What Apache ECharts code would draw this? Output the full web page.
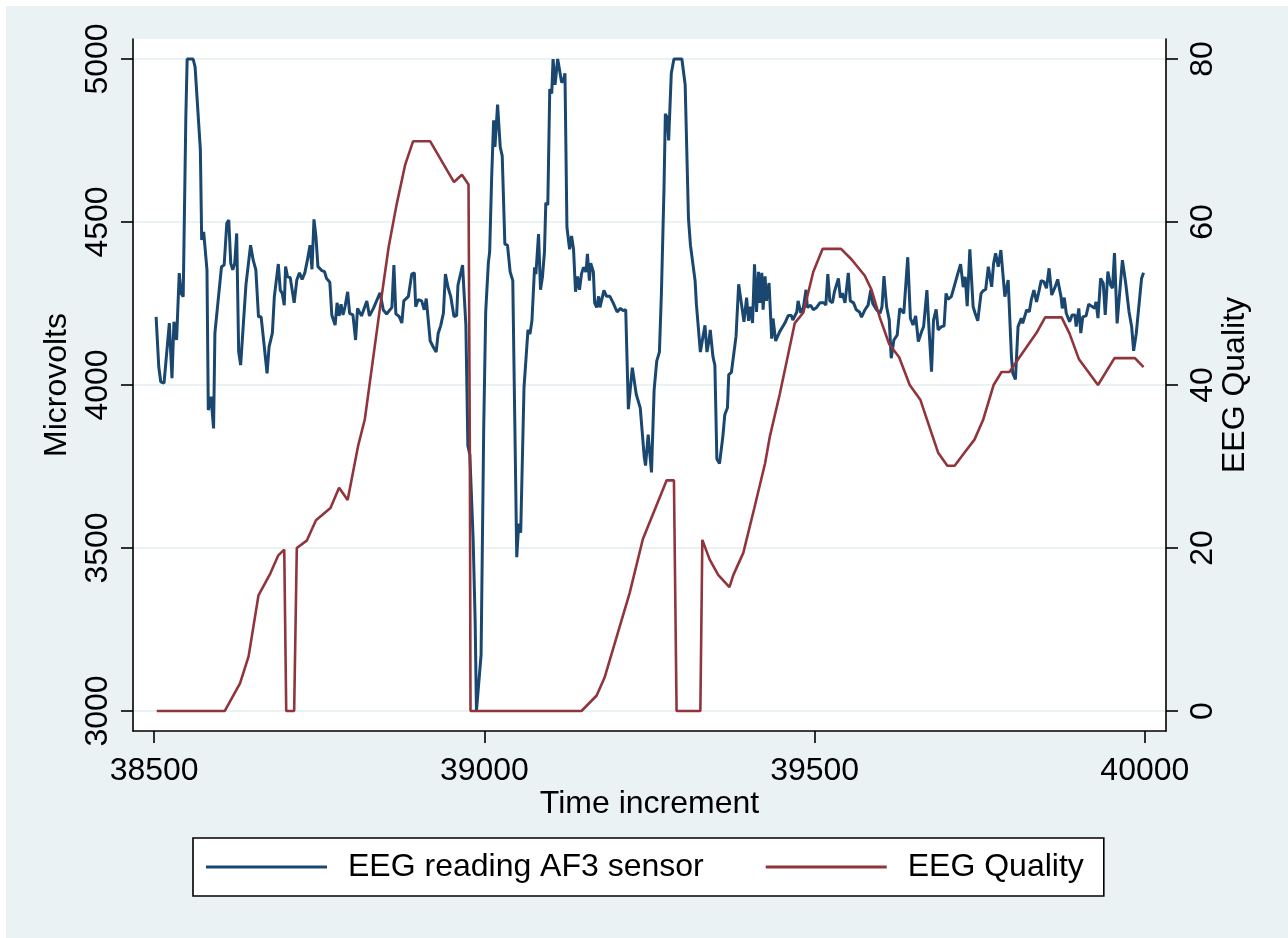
<!DOCTYPE html>
<html>
<head>
<meta charset="utf-8">
<title>EEG reading AF3 sensor</title>
<script src="https://cdn.jsdelivr.net/npm/echarts@6/dist/echarts.min.js"></script>
<style>
  html, body { margin: 0; padding: 0; background: #ffffff; }
  #main { width: 1288px; height: 938px; }
</style>
</head>
<body>
<div id="main"></div>
<script>
// AF3 sensor reading (microvolts), left axis
var timeAF3 = [
  38503, 38507, 38510, 38515, 38523, 38527, 38530, 38534, 38538, 38541,
  38544, 38548, 38550, 38559, 38562, 38570, 38572, 38575, 38580, 38582,
  38586, 38590, 38592, 38602, 38606, 38610, 38613, 38616, 38619, 38622,
  38625, 38628, 38631, 38639, 38642, 38646, 38650, 38654, 38658, 38662,
  38671, 38674, 38679, 38682, 38685, 38688, 38691, 38694, 38697, 38699,
  38702, 38706, 38709, 38712, 38716, 38720, 38724, 38728, 38732, 38736,
  38739, 38742, 38745, 38748, 38754, 38758, 38761, 38766, 38769, 38774,
  38777, 38780, 38783, 38786, 38789, 38793, 38796, 38801, 38805, 38808,
  38814, 38822, 38826, 38832, 38842, 38847, 38852, 38860, 38863, 38866,
  38871, 38875, 38878, 38885, 38890, 38894, 38896, 38900, 38905, 38909,
  38912, 38915, 38918, 38923, 38927, 38930, 38934, 38938, 38941, 38945,
  38949, 38954, 38958, 38960, 38963, 38967, 38969, 38972, 38975, 38978,
  38983, 38986, 38988, 38991, 38995, 38999, 39002, 39006, 39008, 39011,
  39014, 39016, 39020, 39024, 39027, 39031, 39035, 39039, 39043, 39046,
  39049, 39052, 39055, 39060, 39066, 39069, 39072, 39076, 39078, 39082,
  39085, 39088, 39091, 39093, 39096, 39099, 39102, 39104, 39107, 39111,
  39114, 39117, 39120, 39122, 39125, 39129, 39132, 39135, 39138, 39141,
  39144, 39147, 39150, 39154, 39156, 39159, 39161, 39165, 39167, 39170,
  39173, 39175, 39181, 39185, 39190, 39195, 39201, 39206, 39210, 39214,
  39218, 39224, 39230, 39236, 39242, 39244, 39248, 39251, 39253, 39257,
  39261, 39265, 39268, 39272, 39274, 39277, 39279, 39283, 39287, 39299,
  39304, 39309, 39312, 39319, 39321, 39324, 39327, 39331, 39334, 39337,
  39340, 39342, 39346, 39349, 39352, 39356, 39361, 39364, 39368, 39370,
  39374, 39381, 39385, 39389, 39393, 39397, 39400, 39403, 39406, 39409,
  39412, 39415, 39417, 39420, 39422, 39425, 39427, 39431, 39435, 39437,
  39441, 39447, 39455, 39460, 39465, 39467, 39473, 39475, 39479, 39483,
  39487, 39489, 39494, 39498, 39503, 39508, 39514, 39517, 39520, 39523,
  39527, 39530, 39536, 39539, 39542, 39546, 39551, 39554, 39559, 39563,
  39568, 39571, 39576, 39581, 39585, 39588, 39594, 39599, 39602, 39605,
  39609, 39613, 39616, 39620, 39625, 39629, 39635, 39641, 39645, 39649,
  39653, 39657, 39662, 39665, 39670, 39673, 39677, 39680, 39684, 39687,
  39692, 39696, 39699, 39702, 39707, 39712, 39717, 39721, 39725, 39728,
  39731, 39735, 39740, 39743, 39747, 39752, 39755, 39759, 39763, 39768,
  39771, 39774, 39778, 39782, 39788, 39793, 39795, 39798, 39800, 39804,
  39808, 39813, 39815, 39821, 39825, 39828, 39832, 39836, 39840, 39843,
  39847, 39851, 39855, 39859, 39864, 39868, 39873, 39875, 39878, 39881,
  39886, 39890, 39894, 39896, 39900, 39903, 39906, 39911, 39915, 39919,
  39924, 39926, 39929, 39933, 39937, 39940, 39944, 39948, 39951, 39954,
  39958, 39966, 39971, 39976, 39980, 39983, 39987, 39995, 39998
];
var eegAF3 = [
  4209, 4056, 4010, 4006, 4190, 4021, 4194, 4138, 4343, 4281,
  4271, 4823, 5000, 5000, 4976, 4721, 4445, 4470, 4353, 3923,
  3964, 3867, 4159, 4363, 4368, 4496, 4506, 4373, 4353, 4373,
  4465, 4102, 4061, 4307, 4301, 4429, 4383, 4353, 4209, 4209,
  4036, 4117, 4159, 4271, 4271, 4371, 4291, 4281, 4245, 4363,
  4332, 4330, 4327, 4252, 4322, 4344, 4324, 4343, 4383, 4429,
  4355, 4508, 4455, 4363, 4351, 4348, 4327, 4315, 4215, 4184,
  4252, 4212, 4248, 4215, 4240, 4286, 4220, 4215, 4138, 4235,
  4212, 4258, 4212, 4235, 4283, 4230, 4218, 4238, 4368, 4218,
  4210, 4190, 4258, 4272, 4340, 4344, 4240, 4262, 4258, 4231,
  4265, 4268, 4135, 4115, 4101, 4158, 4183, 4221, 4340, 4299,
  4272, 4210, 4213, 4306, 4306, 4368, 4292, 4183, 3814, 3786,
  3526, 3280, 3000, 3000, 3172, 3868, 4224, 4374, 4409, 4635,
  4812, 4730, 4860, 4730, 4703, 4432, 4429, 4347, 4320, 3896,
  3472, 3575, 3547, 3992, 4169, 4156, 4197, 4361, 4340, 4463,
  4292, 4333, 4409, 4559, 4552, 4908, 4894, 5000, 4921, 5000,
  4996, 4928, 4935, 4956, 4484, 4416, 4457, 4416, 4286, 4333,
  4292, 4340, 4361, 4347, 4402, 4320, 4374, 4347, 4252, 4238,
  4272, 4238, 4290, 4272, 4272, 4252, 4224, 4235, 4228, 4231,
  3926, 4053, 3971, 3930, 3780, 3753, 3848, 3848, 3732, 3985,
  4074, 4101, 4279, 4607, 4832, 4819, 4750, 4956, 5000, 5000,
  4921, 4511, 4429, 4320, 4248, 4245, 4101, 4149, 4183, 4101,
  4135, 4169, 4088, 4060, 3773, 3759, 3841, 3909, 3930, 4032,
  4039, 4149, 4309, 4252, 4194, 4268, 4197, 4240, 4190, 4370,
  4224, 4347, 4252, 4344, 4231, 4333, 4258, 4313, 4142, 4204,
  4135, 4163, 4190, 4213, 4213, 4199, 4224, 4258, 4221, 4238,
  4292, 4238, 4245, 4231, 4238, 4252, 4252, 4245, 4340, 4258,
  4252, 4286, 4327, 4268, 4282, 4252, 4344, 4258, 4252, 4231,
  4224, 4208, 4230, 4245, 4291, 4250, 4230, 4220, 4240, 4334,
  4240, 4199, 4082, 4138, 4153, 4235, 4220, 4392, 4205, 4184,
  4212, 4133, 4164, 4179, 4291, 4179, 4041, 4199, 4232, 4169,
  4179, 4181, 4281, 4263, 4271, 4307, 4343, 4371, 4300, 4332,
  4242, 4416, 4240, 4220, 4197, 4281, 4289, 4293, 4363, 4301,
  4373, 4404, 4363, 4414, 4271, 4322, 4327, 4087, 4036, 4017,
  4179, 4205, 4189, 4230, 4225, 4261, 4291, 4255, 4291, 4320,
  4317, 4297, 4358, 4276, 4300, 4324, 4271, 4235, 4268, 4220,
  4194, 4215, 4215, 4179, 4235, 4159, 4209, 4212, 4248, 4242,
  4235, 4255, 4205, 4327, 4312, 4215, 4348, 4307, 4297, 4405,
  4189, 4383, 4312, 4225, 4179, 4105, 4159, 4327, 4344
];

// EEG quality, right axis
var timeQuality = [
  38504, 38607, 38630, 38643, 38658, 38676, 38688, 38697, 38700, 38712,
  38716, 38731, 38745, 38767, 38780, 38793, 38809, 38819, 38842, 38855,
  38867, 38880, 38892, 38918, 38954, 38966, 38976, 38978, 38979, 39147,
  39170, 39182, 39220, 39240, 39276, 39287, 39291, 39327, 39330, 39341,
  39354, 39371, 39377, 39392, 39409, 39425, 39432, 39447, 39470, 39483,
  39498, 39512, 39540, 39556, 39576, 39586, 39599, 39613, 39628, 39644,
  39660, 39677, 39687, 39701, 39712, 39725, 39742, 39755, 39771, 39783,
  39795, 39811, 39836, 39849, 39874, 39886, 39900, 39929, 39954, 39985,
  39998
];
var eegQuality = [
  0, 0, 3.4, 6.7, 14.2, 16.9, 19.1, 19.8, 0, 0,
  20.0, 20.9, 23.4, 24.9, 27.4, 25.9, 32.6, 35.8, 49.5, 56.9,
  62.1, 67.0, 69.9, 69.9, 64.9, 65.8, 64.6, 32.0, 0, 0,
  1.9, 4.1, 14.5, 21.1, 28.3, 28.3, 0, 0, 21.0, 18.6,
  16.7, 15.2, 16.7, 19.4, 25.0, 30.4, 33.6, 38.8, 47.6, 48.9,
  53.9, 56.7, 56.7, 55.4, 53.4, 51.7, 48.2, 45.0, 43.4, 40.0,
  38.2, 34.1, 31.7, 30.1, 30.1, 31.5, 33.3, 35.7, 40.0, 41.6,
  41.6, 43.5, 46.4, 48.3, 48.3, 46.3, 43.2, 40.0, 43.3, 43.3,
  42.2
];

var xTicks = [38500, 39000, 39500, 40000];
var yLeftTicks = [3000, 3500, 4000, 4500, 5000];
var yRightTicks = [0, 20, 40, 60, 80];
var seriesNames = ['EEG reading AF3 sensor', 'EEG Quality'];

function pairs(xs, ys) {
    var out = [];
    for (var i = 0; i < xs.length; i++) {
        out.push([xs[i], ys[i]]);
    }
    return out;
}

// plain numbers, no thousands separator
function plain(v) {
    return String(v);
}

var navy = '#1a476f';
var maroon = '#90353b';
var font = '"Liberation Sans", Arial, sans-serif';

var myChart = echarts.init(document.getElementById('main'));

var axisLine = { show: true, onZero: false, lineStyle: { color: '#000', width: 1.6 } };

var option = {
    backgroundColor: '#ffffff',
    animation: false,
    textStyle: { fontFamily: font },
    graphic: [{
        type: 'rect',
        silent: true,
        z: -10,
        shape: { x: 6, y: 6, width: 1282, height: 932 },
        style: { fill: '#eaf2f3' }
    }],
    grid: {
        left: 133,
        right: 122,
        top: 39,
        bottom: 207,
        show: true,
        backgroundColor: '#ffffff',
        borderWidth: 0
    },
    legend: {
        left: 193,
        top: 838,
        icon: 'rect',
        itemWidth: 121,
        itemHeight: 3,
        itemGap: 62,
        padding: [13, 20, 13, 13],
        backgroundColor: '#ffffff',
        borderColor: '#000',
        borderWidth: 1.6,
        textStyle: { fontSize: 32, color: '#000', fontFamily: font, padding: [0, 0, 0, 16] },
        data: seriesNames
    },
    xAxis: {
        type: 'value',
        min: 38468,
        max: 40032,
        position: 'bottom',
        axisLine: axisLine,
        axisTick: { show: true, length: 12, customValues: xTicks, lineStyle: { color: '#000', width: 1.6 } },
        axisLabel: { customValues: xTicks, formatter: plain, fontSize: 32, color: '#000', margin: 24 },
        splitLine: { show: false },
        name: 'Time increment',
        nameLocation: 'middle',
        nameGap: 57,
        nameMoveOverlap: false,
        nameTextStyle: { fontSize: 32, color: '#000' }
    },
    yAxis: [{
        type: 'value',
        min: 2938.65,
        max: 5061.35,
        position: 'left',
        axisLine: axisLine,
        axisTick: { show: true, length: 12, customValues: yLeftTicks, lineStyle: { color: '#000', width: 1.6 } },
        axisLabel: { customValues: yLeftTicks, formatter: plain, fontSize: 32, color: '#000', rotate: 90, margin: 19 },
        splitLine: { show: true, lineStyle: { color: '#eaf2f3', width: 2 } },
        name: 'Microvolts',
        nameLocation: 'middle',
        nameRotate: 90,
        nameGap: 60,
        nameMoveOverlap: false,
        nameTextStyle: { fontSize: 32, color: '#000' }
    }, {
        type: 'value',
        min: -2.454,
        max: 82.454,
        position: 'right',
        axisLine: axisLine,
        axisTick: { show: true, length: 12, customValues: yRightTicks, lineStyle: { color: '#000', width: 1.6 } },
        axisLabel: { customValues: yRightTicks, formatter: plain, fontSize: 32, color: '#000', rotate: 90, margin: 21 },
        splitLine: { show: false },
        name: 'EEG Quality',
        nameLocation: 'middle',
        nameRotate: 90,
        nameGap: 53,
        nameMoveOverlap: false,
        nameTextStyle: { fontSize: 32, color: '#000' }
    }],
    series: [{
        name: seriesNames[0],
        type: 'line',
        yAxisIndex: 0,
        symbol: 'none',
        z: 2,
        color: navy,
        lineStyle: { color: navy, width: 3 },
        data: pairs(timeAF3, eegAF3)
    }, {
        name: seriesNames[1],
        type: 'line',
        yAxisIndex: 1,
        symbol: 'none',
        z: 3,
        color: maroon,
        lineStyle: { color: maroon, width: 2.6 },
        data: pairs(timeQuality, eegQuality)
    }]
};

myChart.setOption(option);
</script>
</body>
</html>
